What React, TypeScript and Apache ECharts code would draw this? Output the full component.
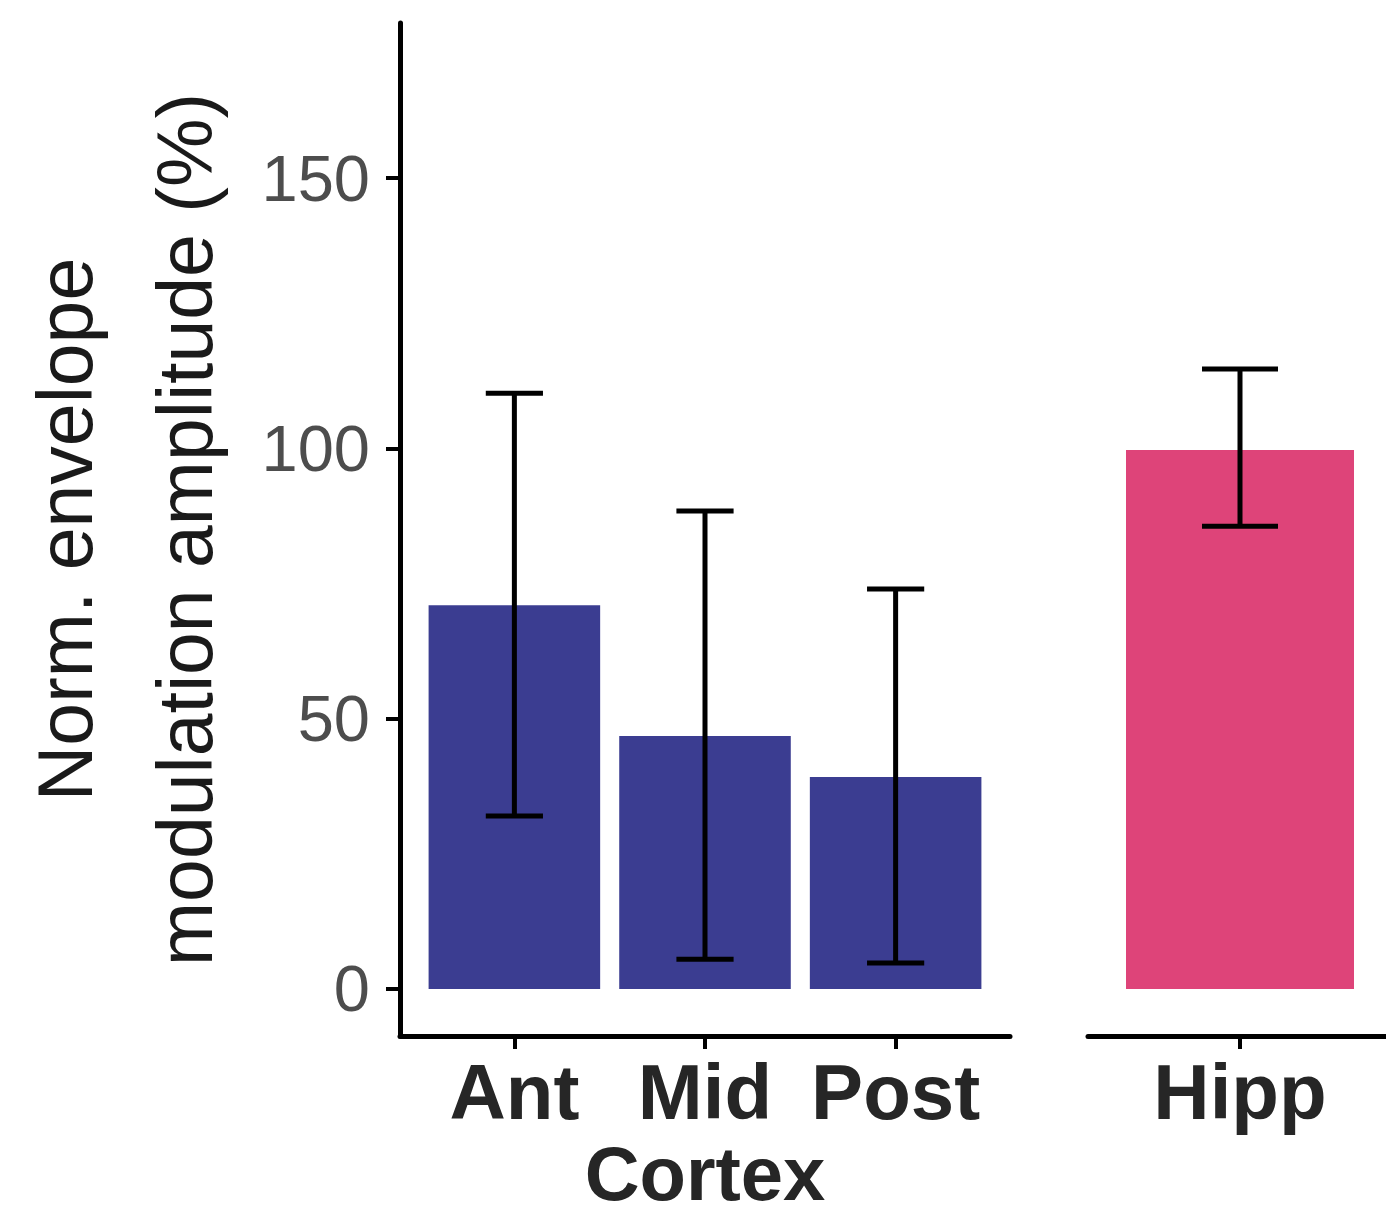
import React, { useEffect, useRef } from "react";
import * as echarts from "echarts";

const cortexCategories = ["Ant", "Mid", "Post"];
const cortexMeans = [71.0, 46.8, 39.2];
const cortexLower = [32.0, 5.5, 4.8];
const cortexUpper = [110.2, 88.4, 74.0];

const hippCategories = ["Hipp"];
const hippMeans = [99.7];
const hippLower = [85.6];
const hippUpper = [114.7];

const yTickValues = [0, 50, 100, 150];
const yMin = -8.7;
const yMax = 178.7;

const FONT = "'Liberation Sans', Arial, Helvetica, sans-serif";

export default function App() {
  const ref = useRef<HTMLDivElement>(null);

  useEffect(() => {
    if (!ref.current) return;
    const chart = echarts.init(ref.current, null, { renderer: "svg" });

    const g1Left = 400;
    const g1Width = 610;
    const g2Left = 1088;
    const g2Width = 304;
    const top = 23;
    const height = 1013;
    const unit1 = g1Width / 3.2;
    const unit2 = g2Width / 1.2;

    const errRender = (params: any, api: any) => {
      const x = api.value(0);
      const lo = api.value(1);
      const hi = api.value(2);
      const pLo = api.coord([x, lo]);
      const pHi = api.coord([x, hi]);
      const half = api.size([0.3, 0])[0] / 2;
      const style = { stroke: "#000000", lineWidth: 5 };
      return {
        type: "group",
        children: [
          { type: "line", shape: { x1: pHi[0], y1: pHi[1], x2: pLo[0], y2: pLo[1] }, style },
          { type: "line", shape: { x1: pHi[0] - half, y1: pHi[1], x2: pHi[0] + half, y2: pHi[1] }, style },
          { type: "line", shape: { x1: pLo[0] - half, y1: pLo[1], x2: pLo[0] + half, y2: pLo[1] }, style },
        ],
      };
    };

    const axisLineStyle = { color: "#000000", width: 5 };
    const xLabelStyle = {
      fontFamily: FONT,
      fontSize: 78,
      fontWeight: "bold" as const,
      color: "#262626",
    };

    const option: any = {
      animation: false,
      backgroundColor: "#ffffff",
      grid: [
        { left: g1Left, top, width: g1Width, height, outerBoundsMode: "none", containLabel: false },
        { left: g2Left, top, width: g2Width, height, outerBoundsMode: "none", containLabel: false },
      ],
      xAxis: [
        {
          type: "value",
          gridIndex: 0,
          min: 0.4,
          max: 3.6,
          axisLine: { show: true, lineStyle: axisLineStyle, onZero: false },
          axisTick: { show: true, length: 13, customValues: [1, 2, 3], lineStyle: { color: "#000", width: 4 } },
          axisLabel: {
            customValues: [1, 2, 3],
            formatter: (v: number) => cortexCategories[Math.round(v) - 1] ?? "",
            margin: 17,
            ...xLabelStyle,
          },
          splitLine: { show: false },
          name: "Cortex",
          nameLocation: "middle",
          nameGap: 106,
          nameTextStyle: { ...xLabelStyle, fontSize: 76, lineHeight: 60 },
        },
        {
          type: "value",
          gridIndex: 1,
          min: 0.4,
          max: 1.6,
          axisLine: { show: true, lineStyle: axisLineStyle, onZero: false },
          axisTick: { show: true, length: 13, customValues: [1], lineStyle: { color: "#000", width: 4 } },
          axisLabel: {
            customValues: [1],
            formatter: (v: number) => hippCategories[Math.round(v) - 1] ?? "",
            margin: 17,
            ...xLabelStyle,
          },
          splitLine: { show: false },
        },
      ],
      yAxis: [
        {
          type: "value",
          gridIndex: 0,
          min: yMin,
          max: yMax,
          axisLine: { show: true, lineStyle: axisLineStyle, onZero: false },
          axisTick: { show: true, length: 14, customValues: yTickValues, lineStyle: { color: "#000", width: 4 } },
          axisLabel: {
            customValues: yTickValues,
            margin: 30,
            fontFamily: FONT,
            fontSize: 65,
            color: "#4D4D4D",
          },
          splitLine: { show: false },
          name: "Norm. envelope\nmodulation amplitude (%)",
          nameLocation: "middle",
          nameRotate: 90,
          nameGap: 155,
          nameTextStyle: {
            fontFamily: FONT,
            fontSize: 77,
            lineHeight: 120,
            color: "#1A1A1A",
          },
        },
        {
          type: "value",
          gridIndex: 1,
          min: yMin,
          max: yMax,
          show: false,
        },
      ],
      series: [
        {
          type: "bar",
          xAxisIndex: 0,
          yAxisIndex: 0,
          barWidth: 0.9 * unit1,
          itemStyle: { color: "#3B3D91" },
          data: cortexMeans.map((v, i) => [i + 1, v]),
        },
        {
          type: "bar",
          xAxisIndex: 1,
          yAxisIndex: 1,
          barWidth: 0.9 * unit2,
          itemStyle: { color: "#DE4479" },
          data: hippMeans.map((v, i) => [i + 1, v]),
        },
        {
          type: "custom",
          xAxisIndex: 0,
          yAxisIndex: 0,
          renderItem: errRender,
          encode: { x: 0, y: [1, 2] },
          data: cortexCategories.map((_, i) => [i + 1, cortexLower[i], cortexUpper[i]]),
          z: 5,
        },
        {
          type: "custom",
          xAxisIndex: 1,
          yAxisIndex: 1,
          renderItem: errRender,
          encode: { x: 0, y: [1, 2] },
          data: hippCategories.map((_, i) => [i + 1, hippLower[i], hippUpper[i]]),
          z: 5,
        },
      ],
    };

    chart.setOption(option);
    return () => chart.dispose();
  }, []);

  return (
    <div
      ref={ref}
      style={{ position: "absolute", left: 0, top: 0, width: 1386, height: 1216 }}
    />
  );
}
